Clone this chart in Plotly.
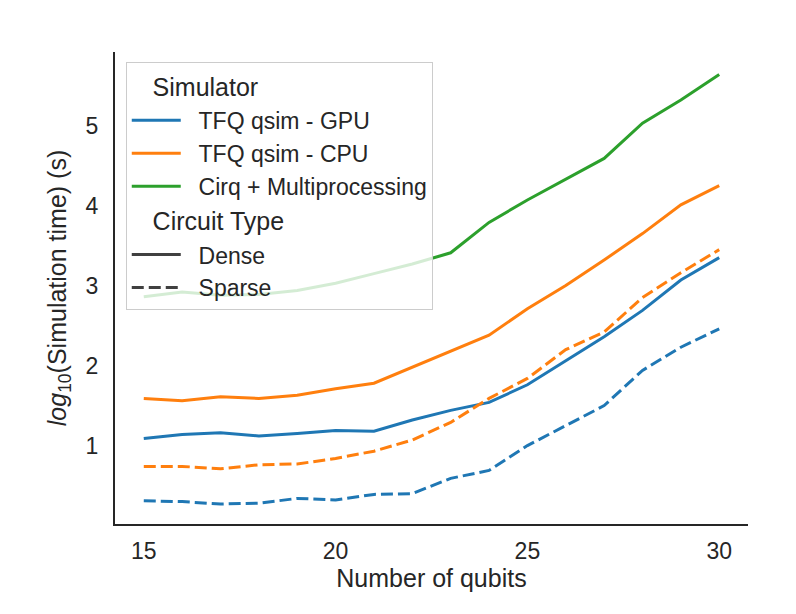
import plotly.graph_objects as go

qubits = list(range(15, 31))

gpu_dense = [1.10, 1.15, 1.17, 1.13, 1.16, 1.20, 1.19, 1.33, 1.45, 1.55, 1.77, 2.07, 2.37, 2.70, 3.08, 3.36]
cpu_dense = [1.60, 1.57, 1.62, 1.60, 1.64, 1.72, 1.79, 1.99, 2.19, 2.39, 2.72, 3.01, 3.33, 3.66, 4.02, 4.26]
gpu_sparse = [0.32, 0.31, 0.28, 0.29, 0.35, 0.33, 0.40, 0.41, 0.60, 0.70, 1.01, 1.26, 1.51, 1.95, 2.24, 2.47]
cpu_sparse = [0.75, 0.75, 0.72, 0.77, 0.78, 0.85, 0.94, 1.08, 1.30, 1.60, 1.85, 2.21, 2.43, 2.86, 3.17, 3.46]
cirq_dense = [2.87, 2.93, 2.89, 2.90, 2.95, 3.04, 3.16, 3.28, 3.42, 3.80, 4.08, 4.34, 4.60, 5.04, 5.33, 5.65]

simulators = ["TFQ qsim - GPU", "TFQ qsim - CPU", "Cirq + Multiprocessing"]
colors = ["#1f77b4", "#ff7f0e", "#2ca02c"]
circuit_types = ["Dense", "Sparse"]
dash_styles = ["solid", "12px,5px"]

series = [
    (0, 0, gpu_dense),
    (1, 0, cpu_dense),
    (2, 0, cirq_dense),
    (0, 1, gpu_sparse),
    (1, 1, cpu_sparse),
]

FONT = "Liberation Sans, Arial, sans-serif"
PAD = "\u00a0\u00a0"
fig = go.Figure()

for si, ci, vals in series:
    fig.add_trace(go.Scatter(
        x=qubits, y=vals, mode="lines",
        line=dict(color=colors[si], width=3, dash=dash_styles[ci]),
        showlegend=False, hoverinfo="skip",
    ))

# legend entries
for i, name in enumerate(simulators):
    fig.add_trace(go.Scatter(
        x=[None], y=[None], mode="lines", name=PAD + name,
        line=dict(color=colors[i], width=3),
        legendgroup="sim",
        legendgrouptitle=dict(text="\u00a0\u00a0\u00a0Simulator", font=dict(size=25, color="#262626", family=FONT)),
    ))
for i, name in enumerate(circuit_types):
    fig.add_trace(go.Scatter(
        x=[None], y=[None], mode="lines", name=PAD + name,
        line=dict(color="#404040", width=3, dash=dash_styles[i]),
        legendgroup="ct",
        legendgrouptitle=dict(text="\u00a0\u00a0\u00a0Circuit Type", font=dict(size=25, color="#262626", family=FONT)),
    ))

fig.update_layout(
    width=796, height=614,
    margin=dict(l=115, r=48, t=52, b=90),
    paper_bgcolor="white", plot_bgcolor="white",
    font=dict(family=FONT, size=23, color="#262626"),
    showlegend=True,
    legend=dict(
        x=0.017, y=0.978, xanchor="left", yanchor="top",
        bgcolor="rgba(255,255,255,0.8)", bordercolor="#cccccc", borderwidth=1,
        font=dict(size=23, color="#262626", family=FONT),
        tracegroupgap=0, itemwidth=49,
    ),
    xaxis=dict(
        range=[14.25, 30.75], tickvals=[15, 20, 25, 30],
        showline=True, linecolor="#262626", linewidth=2,
        showgrid=False, zeroline=False, ticks="",
        tickfont=dict(size=23), ticklabelstandoff=5,
        title=dict(text="Number of qubits", font=dict(size=25), standoff=6),
    ),
    yaxis=dict(
        range=[0.03, 5.93], tickvals=[1, 2, 3, 4, 5],
        showline=True, linecolor="#262626", linewidth=2,
        showgrid=False, zeroline=False, ticks="",
        tickfont=dict(size=23), ticklabelstandoff=10,
        title=dict(text="<i>log</i><sub>10</sub>(Simulation time) (s)", font=dict(size=25), standoff=12),
    ),
)

fig.write_html("out.html")
